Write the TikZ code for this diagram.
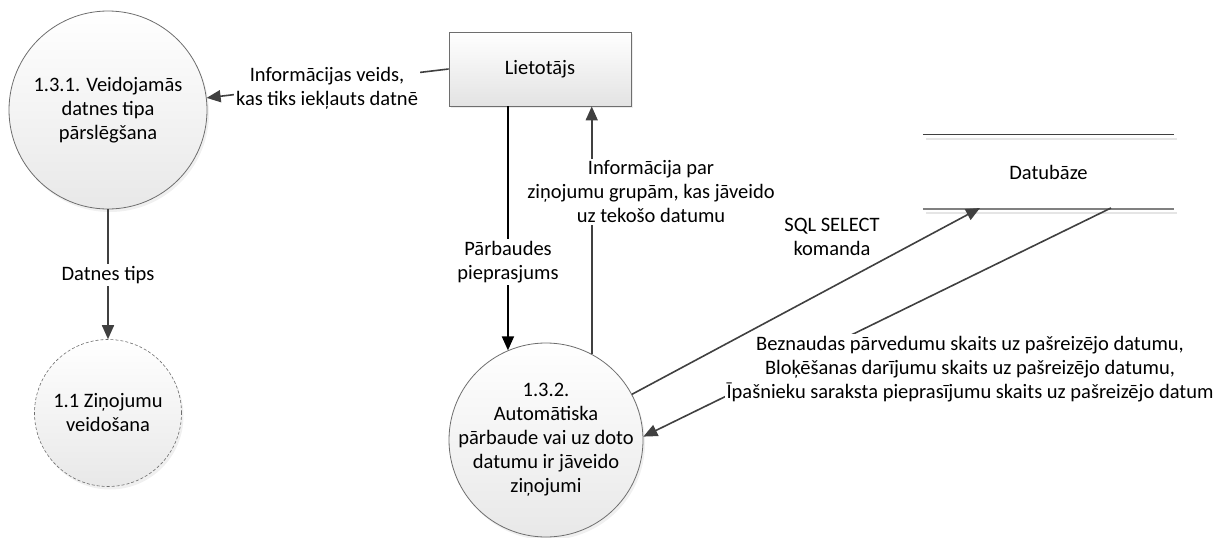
\documentclass[tikz,border=0pt]{standalone}
\usepackage{fontspec}
\setmainfont{Carlito}
\usetikzlibrary{arrows.meta, shadows}
\definecolor{flowgray}{HTML}{404040}
\definecolor{edgegray}{HTML}{6E6E6E}

\begin{document}
\begin{tikzpicture}[x=1pt, y=-1pt,
  every node/.style={font=\fontsize{20.5}{24}\selectfont},
  proc/.style={circle, draw=edgegray, line width=0.8pt, top color=white, bottom color=black!9, minimum size=#1, inner sep=0pt, drop shadow={opacity=0.12, shadow xshift=2pt, shadow yshift=-3pt}},
  ent/.style={rectangle, draw=edgegray, line width=0.8pt, top color=white, bottom color=black!11, minimum width=182, minimum height=74, drop shadow={opacity=0.15, shadow xshift=2pt, shadow yshift=-2pt}},
  flow/.style={draw=flowgray, line width=1.6pt, -{Triangle[length=14pt, width=12pt]}},
  lbl/.style={fill=white, align=center, inner sep=2pt}]
  \useasboundingbox (0,0) rectangle (1229,538);

  \node[ent] (lt) at (540,69) {Lietotājs};
  \node[proc=198, label={[align=center]center:1.3.1. Veidojamās\\datnes tipa\\pārslēgšana}] (sw) at (108,110) {};
  \node[proc=147, dash pattern=on 3pt off 2pt, line width=0.6pt, label={[align=center]center:1.1 Ziņojumu\\veidošana}] (rep) at (108,413) {};
  \node[proc=194, label={[align=center]center:1.3.2.\\Automātiska\\pārbaude vai uz doto\\datumu ir jāveido\\ziņojumi}] (chk) at (546,440) {};
  \node[minimum width=251, minimum height=74] (db) at (1048.5,172) {Datubāze};

  \draw[black!10, line width=1.5pt] ([shift={(3,4)}]db.north west) -- ([shift={(3,4)}]db.north east);
  \draw[black!10, line width=1.5pt] ([shift={(3,4)}]db.south west) -- ([shift={(3,4)}]db.south east);
  \draw[flowgray, line width=1pt] (db.north west) -- (db.north east);
  \draw[black!50, line width=2pt] (db.south west) -- (db.south east);
  \coordinate (dbin) at (980,208);
  \coordinate (dbout) at (1111,208);

  \draw[flow] (lt.west) -- (sw.7);
  \draw[flow] (sw.south) -- (rep.north);
  \draw[flow, draw=black, line width=1.8pt] (chk.113 |- lt.south) -- (chk.113);
  \draw[flow] (chk.62) -- (chk.62 |- lt.south);
  \draw[flow] (dbout) -- (chk.2);

  \node[lbl] (infotype) at (327,88) {Informācijas veids,\\kas tiks iekļauts datnē};
  \node[lbl] (filetype) at (108,275) {Datnes tips};
  \node[lbl] (request) at (508,262) {Pārbaudes\\pieprasjums};
  \node[lbl] (groups) at (651,192) {Informācija par\\ziņojumu grupām, kas jāveido\\uz tekošo datumu};
  \node[lbl, fill=none] (sql) at (832,237) {SQL SELECT\\komanda};
  \node[lbl] (counts) at (970,369) {Beznaudas pārvedumu skaits uz pašreizējo datumu,\\Bloķēšanas darījumu skaits uz pašreizējo datumu,\\Īpašnieku saraksta pieprasījumu skaits uz pašreizējo datum};

  \draw[flow] (chk.28) -- (dbin);
\end{tikzpicture}
\end{document}
